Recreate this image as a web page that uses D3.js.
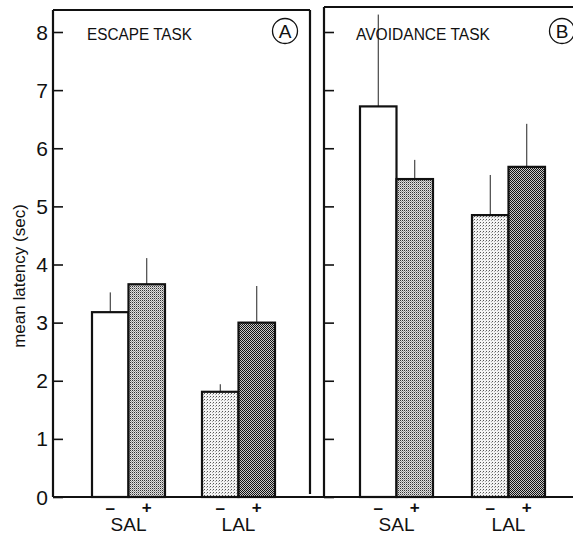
<!DOCTYPE html>
<html>
<head>
<meta charset="utf-8">
<script src="https://cdn.jsdelivr.net/npm/d3@7"></script>
<style>
  body { margin: 0; background: #fff; overflow: hidden; }
  svg { display: block; }
  text { font-family: "Liberation Sans", Arial, sans-serif; fill: #111; }
</style>
</head>
<body>
<script>
var groups = ["SAL", "LAL"];
var drugs = ["-", "+"];
var yTicks = [0, 1, 2, 3, 4, 5, 6, 7, 8];

// mean latency (sec), order: SAL-, SAL+, LAL-, LAL+
var escapeMeans = [3.18, 3.66, 1.81, 3.0];
var escapeErrors = [3.52, 4.11, 1.94, 3.63];
var avoidMeans = [6.72, 5.47, 4.85, 5.68];
var avoidErrors = [8.3, 5.8, 5.54, 6.42];

var fills = ["#fff", "url(#dotMed)", "url(#dotLight)", "url(#dotDark)"];

var svg = d3.select("body").append("svg").attr("width", 573).attr("height", 535);

// stipple patterns
var defs = svg.append("defs");
var pMed = defs.append("pattern").attr("id", "dotMed").attr("patternUnits", "userSpaceOnUse")
      .attr("width", 2).attr("height", 2);
pMed.append("rect").attr("width", 2).attr("height", 2).attr("fill", "#e0e0e0");
pMed.append("rect").attr("width", 1).attr("height", 1).attr("fill", "#333");
pMed.append("rect").attr("x", 1).attr("y", 1).attr("width", 1).attr("height", 1).attr("fill", "#999");

var pLight = defs.append("pattern").attr("id", "dotLight").attr("patternUnits", "userSpaceOnUse")
      .attr("width", 3).attr("height", 3);
pLight.append("rect").attr("width", 3).attr("height", 3).attr("fill", "#f4f4f4");
pLight.append("rect").attr("width", 1).attr("height", 1).attr("fill", "#555");
pLight.append("rect").attr("x", 2).attr("y", 1).attr("width", 1).attr("height", 1).attr("fill", "#aaa");

var pDark = defs.append("pattern").attr("id", "dotDark").attr("patternUnits", "userSpaceOnUse")
      .attr("width", 2).attr("height", 2);
pDark.append("rect").attr("width", 2).attr("height", 2).attr("fill", "#c8c8c8");
pDark.append("rect").attr("width", 1).attr("height", 1).attr("fill", "#111");
pDark.append("rect").attr("x", 1).attr("y", 1).attr("width", 1).attr("height", 1).attr("fill", "#111");

var y = d3.scaleLinear().domain([0, 8]).range([497, 32]);

var panels = [
  { title: "ESCAPE TASK", letter: "A", means: escapeMeans, errs: escapeErrors,
    left: 53, right: 310, top: 10, groupRange: [128.5, 238.5], titleX: 87, titleW: 105, circX: 285, tickLabels: true },
  { title: "AVOIDANCE TASK", letter: "B", means: avoidMeans, errs: avoidErrors,
    left: 324, right: 574, top: 7, groupRange: [396.5, 508.5], titleX: 356, titleW: 134, circX: 562, tickLabels: false }
];

var inner = d3.scaleBand().domain(drugs).range([-36.5, 36.5]);

panels.forEach(function (p) {
  var g = svg.append("g");
  var xg = d3.scalePoint().domain(groups).range(p.groupRange);

  var rows = [];
  groups.forEach(function (grp, gi) {
    drugs.forEach(function (dr, di) {
      var k = gi * 2 + di;
      rows.push({ group: grp, drug: dr, mean: p.means[k], err: p.errs[k], fill: fills[k] });
    });
  });

  // error bars
  g.selectAll("line.err")
        .data(rows)
        .enter().append("line")
        .attr("class", "err")
        .attr("x1", function (d) { return xg(d.group) + inner(d.drug) + inner.bandwidth() / 2; })
        .attr("x2", function (d) { return xg(d.group) + inner(d.drug) + inner.bandwidth() / 2; })
        .attr("y1", function (d) { return y(d.mean); })
        .attr("y2", function (d) { return y(d.err); })
        .attr("stroke", "#222")
        .attr("stroke-width", 1);

  g.selectAll("rect.bar")
        .data(rows)
        .enter().append("rect")
        .attr("class", "bar")
        .attr("x", function (d) { return xg(d.group) + inner(d.drug); })
        .attr("y", function (d) { return y(d.mean); })
        .attr("width", inner.bandwidth())
        .attr("height", function (d) { return y(0) - y(d.mean); })
        .attr("fill", function (d) { return d.fill; })
        .attr("stroke", "#111")
        .attr("stroke-width", 2.2);

  // frame
  var fr = [[p.left, y(0), p.left, p.top], [p.left, p.top, p.right, p.top]];
  if (p.letter === "A") fr.push([p.right, p.top, p.right, y(0) - 3]);
  g.selectAll("line.frame")
        .data(fr)
        .enter().append("line")
        .attr("class", "frame")
        .attr("x1", function (d) { return d[0]; })
        .attr("y1", function (d) { return d[1]; })
        .attr("x2", function (d) { return d[2]; })
        .attr("y2", function (d) { return d[3]; })
        .attr("stroke", "#111")
        .attr("stroke-width", 2.2);

  // inward ticks
  var axis = d3.axisRight(y).tickValues(yTicks).tickSize(10).tickFormat("");
  var ax = g.append("g").attr("transform", "translate(" + p.left + ",0)").call(axis);
  ax.select(".domain").remove();
  ax.selectAll(".tick line").attr("stroke", "#111").attr("stroke-width", 1.6);

  if (p.tickLabels) {
    g.selectAll("text.ytick")
          .data(yTicks)
          .enter().append("text")
          .attr("class", "ytick")
          .attr("x", 48)
          .attr("y", function (d) { return y(d); })
          .attr("dy", "0.36em")
          .attr("text-anchor", "end")
          .attr("font-size", 21)
          .text(function (d) { return d; });
  }

  // panel title and letter
  g.append("text")
        .attr("x", p.titleX).attr("y", 40)
        .attr("font-size", 16)
        .attr("textLength", p.titleW).attr("lengthAdjust", "spacingAndGlyphs")
        .text(p.title);
  g.append("circle")
        .attr("cx", p.circX).attr("cy", 31).attr("r", 12.5)
        .attr("fill", "none").attr("stroke", "#111").attr("stroke-width", 1.3);
  g.append("text")
        .attr("x", p.circX).attr("y", 31).attr("dy", "0.36em")
        .attr("text-anchor", "middle").attr("font-size", 19)
        .text(p.letter);

  // x labels
  g.selectAll("text.drug")
        .data(rows)
        .enter().append("text")
        .attr("class", "drug")
        .attr("x", function (d) { return xg(d.group) + inner(d.drug) + inner.bandwidth() / 2; })
        .attr("y", function (d) { return d.drug === "+" ? 513 : 514; })
        .attr("text-anchor", "middle")
        .attr("font-size", 17)
        .attr("font-weight", "bold")
        .text(function (d) { return d.drug === "+" ? "+" : "\u2013"; });

  g.selectAll("text.grp")
        .data(groups)
        .enter().append("text")
        .attr("class", "grp")
        .attr("x", function (d) { return xg(d); })
        .attr("y", 531)
        .attr("text-anchor", "middle")
        .attr("font-size", 19)
        .text(function (d) { return d; });
});

// baseline across both panels
svg.append("line")
      .attr("x1", 53).attr("x2", 573)
      .attr("y1", y(0)).attr("y2", y(0))
      .attr("stroke", "#111").attr("stroke-width", 2.2);

svg.append("text")
      .attr("transform", "translate(25,276) rotate(-90)")
      .attr("text-anchor", "middle")
      .attr("font-size", 17)
      .text("mean latency (sec)");
</script>
</body>
</html>
